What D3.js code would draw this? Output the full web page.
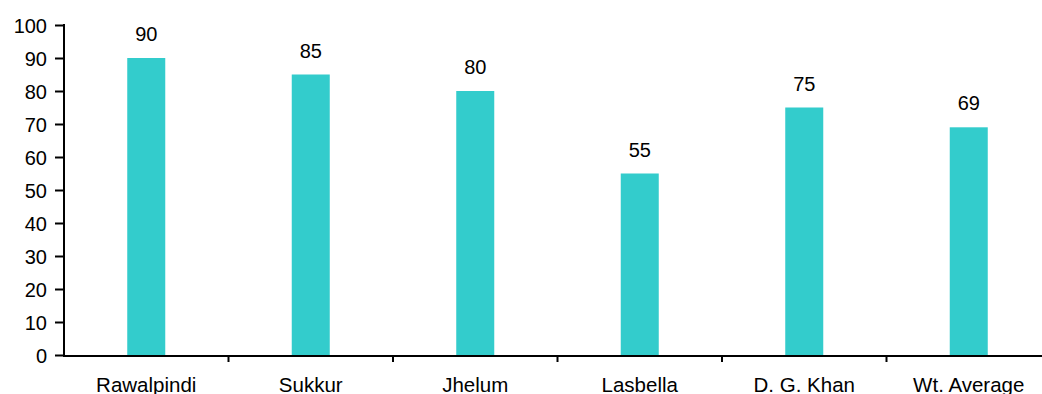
<!DOCTYPE html>
<html>
<head>
<meta charset="utf-8">
<script src="https://cdn.jsdelivr.net/npm/d3@7/dist/d3.min.js"></script>
<style>
  html, body { margin: 0; padding: 0; background: #fff; }
  svg { display: block; }
  text { font-family: "Liberation Sans", Arial, sans-serif; font-size: 20px; fill: #000; }
</style>
</head>
<body>
<svg id="chart" width="1042" height="394"></svg>
<script>
// Chart data
const categories = ["Rawalpindi", "Sukkur", "Jhelum", "Lasbella", "D. G. Khan", "Wt. Average"];
const values = [90, 85, 80, 55, 75, 69];
const yTicks = [0, 10, 20, 30, 40, 50, 60, 70, 80, 90, 100];

const svg = d3.select("#chart");
const plotLeft = 64, plotRight = 1051, plotTop = 25, plotBottom = 355;
const fontCss = "'Liberation Sans', Arial, sans-serif";

// One band per category; axis ticks sit on band boundaries
const x = d3.scaleBand().domain(categories).range([plotLeft, plotRight]).padding(0);
const y = d3.scaleLinear().domain([0, 100]).range([plotBottom, plotTop]);
const barW = x.bandwidth() * 0.231;

// Bars
svg.append("g").selectAll("rect")
  .data(values)
  .join("rect")
  .attr("x", (d, i) => x(categories[i]) + x.bandwidth() / 2 - barW / 2)
  .attr("width", barW)
  .attr("y", d => y(d))
  .attr("height", d => y(0) - y(d) + 1)
  .attr("fill", "#33CCCC");

// Value labels above bars
svg.append("g").selectAll("text")
  .data(values)
  .join("text")
  .attr("x", (d, i) => x(categories[i]) + x.bandwidth() / 2)
  .attr("y", d => y(d) - 17)
  .attr("text-anchor", "middle")
  .text(d => d);

// Y axis
const yAxis = svg.append("g")
  .attr("transform", `translate(${plotLeft},0)`)
  .call(d3.axisLeft(y).tickValues(yTicks).tickSize(9).tickPadding(8).tickSizeOuter(0));
yAxis.select(".domain").attr("stroke", "#000").attr("stroke-width", 2)
  .attr("d", `M0,${plotTop - 1}V${plotBottom + 1}`);
yAxis.selectAll(".tick line").attr("stroke", "#000").attr("stroke-width", 2);
yAxis.selectAll(".tick text").attr("dy", "0.36em")
  .style("font-family", fontCss).style("font-size", "20px").attr("fill", "#000");

// X axis with category labels
const xAxis = svg.append("g")
  .attr("transform", `translate(0,${plotBottom + 1})`)
  .call(d3.axisBottom(x).tickSize(0).tickSizeOuter(0));
xAxis.select(".domain").attr("stroke", "#000").attr("stroke-width", 2)
  .attr("d", `M${plotLeft - 1},0H${plotRight}`);
xAxis.selectAll(".tick text").attr("y", 35.5).attr("dy", 0)
  .style("font-family", fontCss).style("font-size", "20.5px").attr("fill", "#000");

// Boundary tick marks between categories
const bounds = categories.map(c => x(c)).concat([x(categories[categories.length - 1]) + x.bandwidth()]);
xAxis.append("g").selectAll("line")
  .data(bounds.slice(1))
  .join("line")
  .attr("x1", d => d).attr("x2", d => d)
  .attr("y1", 0).attr("y2", 6)
  .attr("stroke", "#000").attr("stroke-width", 2);
</script>
</body>
</html>
